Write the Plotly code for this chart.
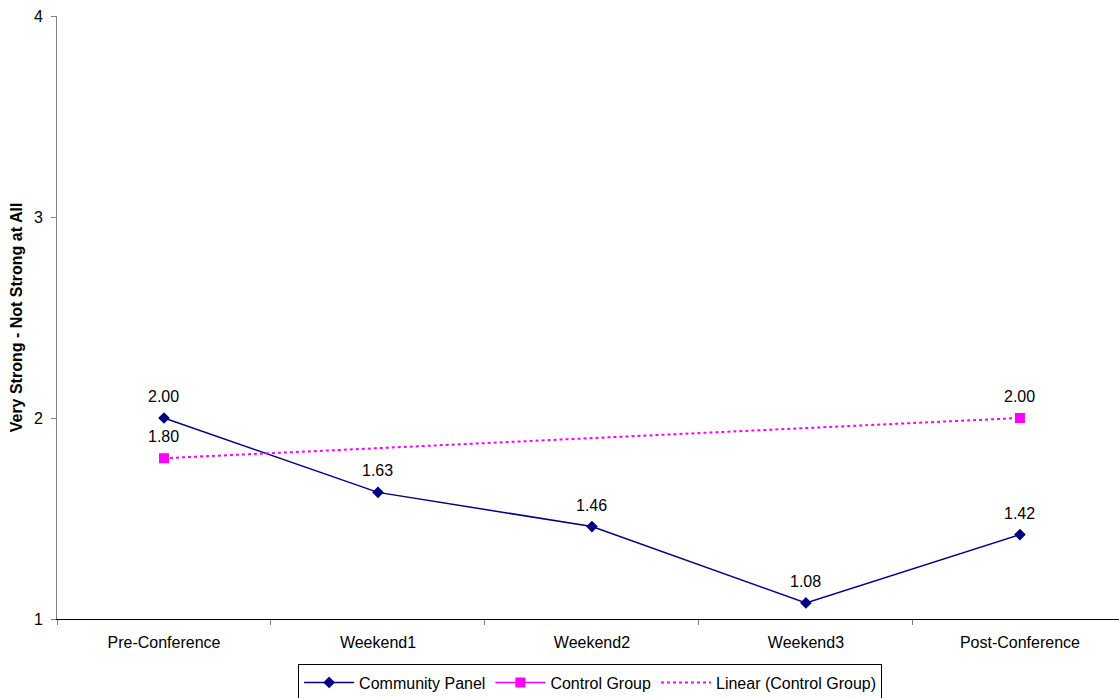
import numpy as np
import plotly.graph_objects as go

# Survey stages and mean ratings
stages = ["Pre-Conference", "Weekend1", "Weekend2", "Weekend3", "Post-Conference"]
community_panel = [2.00, 1.63, 1.46, 1.08, 1.42]
control_group = [1.80, None, None, None, 2.00]
y_ticks = [1, 2, 3, 4]

NAVY = "#000080"
MAGENTA = "#FF00FF"
FONT = "Liberation Sans, Arial, sans-serif"

# Linear trend through the control group observations
idx = [i for i, v in enumerate(control_group) if v is not None]
vals = [control_group[i] for i in idx]
slope, intercept = np.polyfit(np.array(idx) + 1, vals, 1)
trend = [slope * (i + 1) + intercept for i in range(len(stages))]

fig = go.Figure()
fig.add_trace(go.Scatter(
    x=stages, y=community_panel, name="Community Panel",
    mode="lines+markers",
    line=dict(color=NAVY, width=1.5),
    marker=dict(symbol="diamond", size=9, color=NAVY),
))
fig.add_trace(go.Scatter(
    x=stages, y=control_group, name="Control Group",
    mode="lines+markers", connectgaps=False,
    line=dict(color=MAGENTA, width=1.5),
    marker=dict(symbol="square", size=10, color=MAGENTA),
))
fig.add_trace(go.Scatter(
    x=stages, y=trend, name="Linear (Control Group)",
    mode="lines",
    line=dict(color=MAGENTA, width=2, dash="dot"),
))

# Value labels above each data point
for series in (community_panel, control_group):
    for cat, v in zip(stages, series):
        if v is None:
            continue
        fig.add_annotation(
            x=cat, y=v, text=f"{v:.2f}", showarrow=False,
            yanchor="bottom", yshift=11,
            font=dict(family=FONT, size=16, color="black"),
        )

fig.update_layout(
    width=1119, height=698,
    margin=dict(l=57, r=0, t=16, b=79, autoexpand=False),
    paper_bgcolor="white", plot_bgcolor="white",
    font=dict(family=FONT, size=16, color="black"),
    showlegend=True,
    legend=dict(
        orientation="h", x=0.502, xanchor="center",
        yref="container", y=0.048, yanchor="top",
        bordercolor="black", borderwidth=1,
        font=dict(family=FONT, size=16),
        itemwidth=50, tracegroupgap=0,
    ),
    xaxis=dict(
        type="category", range=[-0.5, 4.463], automargin=False,
        showline=True, linecolor="black", linewidth=1,
        ticks="outside", tickson="boundaries", ticklen=5, tickcolor="gray",
        ticklabelstandoff=9,
        showgrid=False, zeroline=False,
        tickfont=dict(family=FONT, size=16),
    ),
    yaxis=dict(
        range=[1, 4], tickvals=y_ticks, automargin=False,
        showline=True, linecolor="gray", linewidth=1,
        ticks="outside", ticklen=5, tickcolor="gray",
        ticklabelstandoff=5,
        showgrid=False, zeroline=False,
        tickfont=dict(family=FONT, size=16),
        title=dict(text="<b>Very Strong - Not Strong at All</b>",
                   font=dict(family=FONT, size=16), standoff=7),
    ),
)

fig.write_html("out.html")
